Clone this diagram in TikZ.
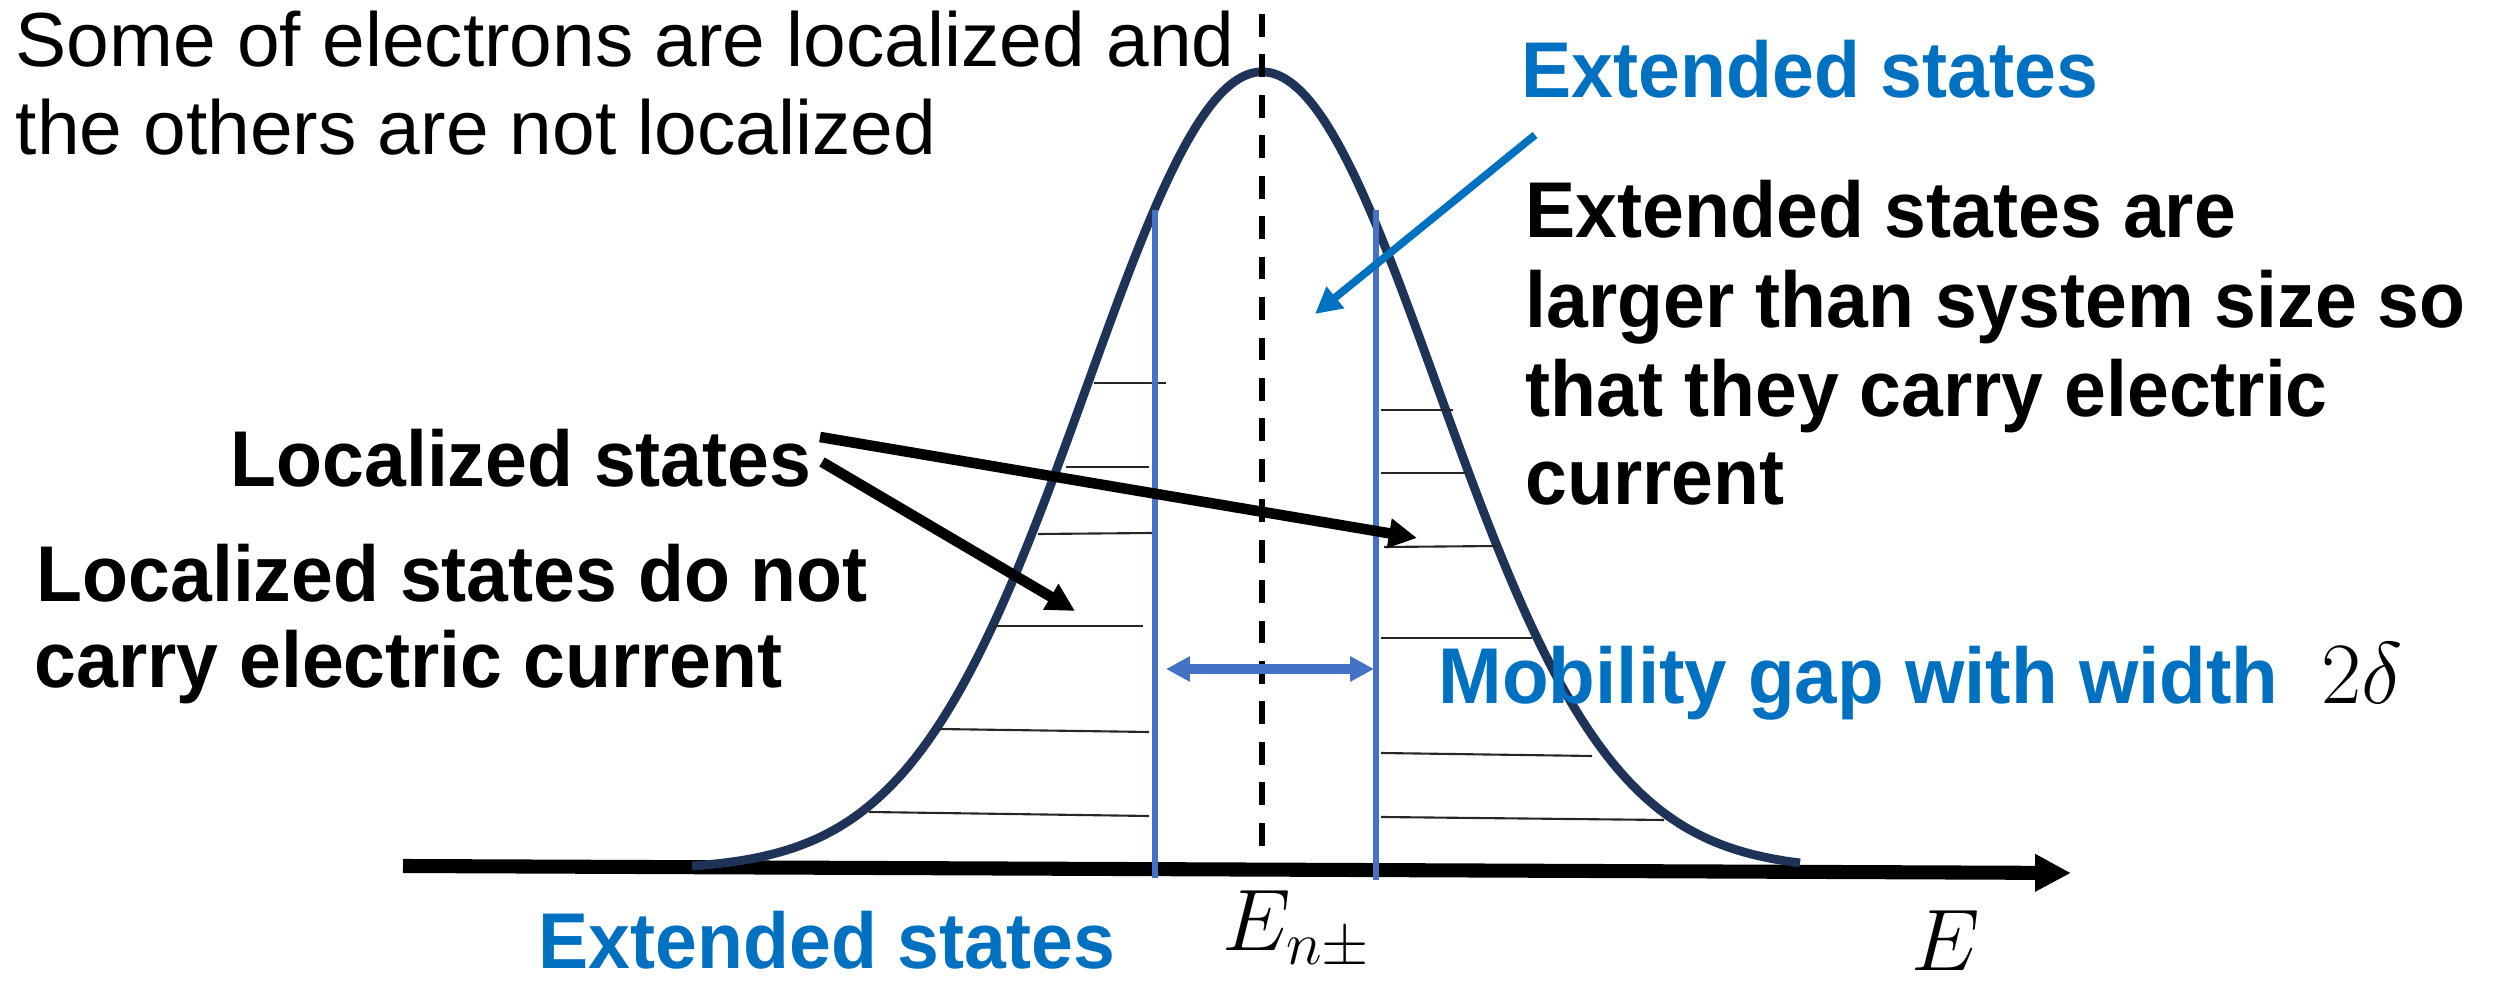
\documentclass[tikz,border=0pt]{standalone}
\usepackage[no-math]{fontspec}
\setmainfont{Liberation Sans}
\newfontfamily\bsans[FakeStretch=0.95]{Liberation Sans}
\newfontfamily\bsansw[FakeStretch=0.965]{Liberation Sans}
\usetikzlibrary{arrows.meta}
\definecolor{navy}{RGB}{31,51,88}
\definecolor{lineblue}{HTML}{4472C4}
\definecolor{txtblue}{HTML}{0070C0}
\tikzset{
  reg/.style={anchor=base west, inner sep=0pt, font=\fontsize{21.8}{25}\selectfont},
  bld/.style={anchor=base west, inner sep=0pt, font=\bsans\bfseries\fontsize{22.5}{26}\selectfont},
  bluebld/.style={bld, text=txtblue},
  mth/.style={anchor=base west, inner sep=0pt, font=\fontsize{24}{28}\selectfont},
  hatch/.style={line width=0.6pt, black!85},
  gapline/.style={lineblue, line width=1.5pt},
  axisline/.style={line width=4pt, -{Triangle[length=10.2pt,width=10pt]}},
  curveline/.style={navy, line width=2.5pt},
  dashline/.style={line width=1.6pt, dash pattern=on 6.5pt off 5pt},
  pointer/.style={line width=3pt, -{Triangle[length=8pt,width=8pt]}},
  bluepointer/.style={txtblue, line width=2.2pt, -{Triangle[length=7.5pt,width=7.5pt]}},
  gaparrow/.style={lineblue, line width=2.6pt, {Triangle[length=6.8pt,width=6.8pt]}-{Triangle[length=6.8pt,width=6.8pt]}}
}
\begin{document}
\begin{tikzpicture}[x=0.01cm,y=-0.01cm]
\useasboundingbox (0,0) rectangle (2496,983);
% axis
\coordinate (axL) at (403,866);
\coordinate (axR) at (2071,873);
\draw[axisline] (axL) -- (axR);
% density of states curve
\draw[curveline] plot[domain=692:1800,samples=160,smooth] (\x,{870-798*exp(-0.5*((\x-1262)/175)^2)});
% hatching, left
\coordinate (l1a) at (1094,383); \coordinate (l1b) at (1166,383);
\coordinate (l2a) at (1066,467); \coordinate (l2b) at (1149,467);
\coordinate (l3a) at (1038,534); \coordinate (l3b) at (1153,533);
\coordinate (l4a) at (992,626);  \coordinate (l4b) at (1143,626);
\coordinate (l5a) at (938,729);  \coordinate (l5b) at (1149,732);
\coordinate (l6a) at (869,812);  \coordinate (l6b) at (1149,816);
\foreach \i in {1,...,6} {\draw[hatch] (l\i a) -- (l\i b);}
% hatching, right
\coordinate (r1a) at (1381,410); \coordinate (r1b) at (1453,410);
\coordinate (r2a) at (1381,473); \coordinate (r2b) at (1467,473);
\coordinate (r3a) at (1384,547); \coordinate (r3b) at (1499,546);
\coordinate (r4a) at (1381,638); \coordinate (r4b) at (1532,638);
\coordinate (r5a) at (1381,753); \coordinate (r5b) at (1592,756);
\coordinate (r6a) at (1381,817); \coordinate (r6b) at (1664,820);
\foreach \i in {1,...,6} {\draw[hatch] (r\i a) -- (r\i b);}
% mobility edges
\coordinate (mlT) at (1155,210); \coordinate (mlB) at (1155,878);
\coordinate (mrT) at (1376,210); \coordinate (mrB) at (1376,880);
\draw[gapline] (mlT) -- (mlB);
\draw[gapline] (mrT) -- (mrB);
% dashed centre line
\coordinate (dT) at (1262,14); \coordinate (dB) at (1262,868);
\draw[dashline] (dT) -- (dB);
% gap arrow
\coordinate (gL) at (1166,669); \coordinate (gR) at (1374,669);
\draw[gaparrow] (gL) -- (gR);
% texts
\node[reg] (tl1) at (15,67) {Some of electrons are localized and};
\node[reg] (tl2) at (15,155) {the others are not localized};
\node[bluebld] (extop) at (1521,98) {Extended states};
\node[bld] (ed1) at (1525,238) {Extended states are};
\node[bld] (ed2) at (1525,328) {larger than system size so};
\node[bld] (ed3) at (1525,417) {that they carry electric};
\node[bld] (ed4) at (1525,505) {current};
\node[bld] (loc) at (230,487) {Localized states};
\node[bld] (ld1) at (36,602) {Localized states do not};
\node[bld] (ld2) at (34,688) {carry electric current};
\node[bluebld, font=\bsansw\bfseries\fontsize{22.5}{26}\selectfont] (mob) at (1438,704) {Mobility gap with width};
\node[mth] (wid) at (2321,704) {$2\delta$};
\node[mth] (enpm) at (1222,951) {$E_{n\pm}$};
\node[mth] (eax) at (1911,971) {$E$};
\node[bluebld] (exbot) at (538,969) {Extended states};
% pointers
\coordinate (p1s) at (820,437); \coordinate (p1e) at (1417,538);
\coordinate (p2s) at (822,462); \coordinate (p2e) at (1075,611);
\draw[pointer] (p1s) -- (p1e);
\draw[pointer] (p2s) -- (p2e);
\coordinate (bs) at (1535,135); \coordinate (be) at (1315,314);
\draw[bluepointer] (bs) -- (be);
\end{tikzpicture}
\end{document}
